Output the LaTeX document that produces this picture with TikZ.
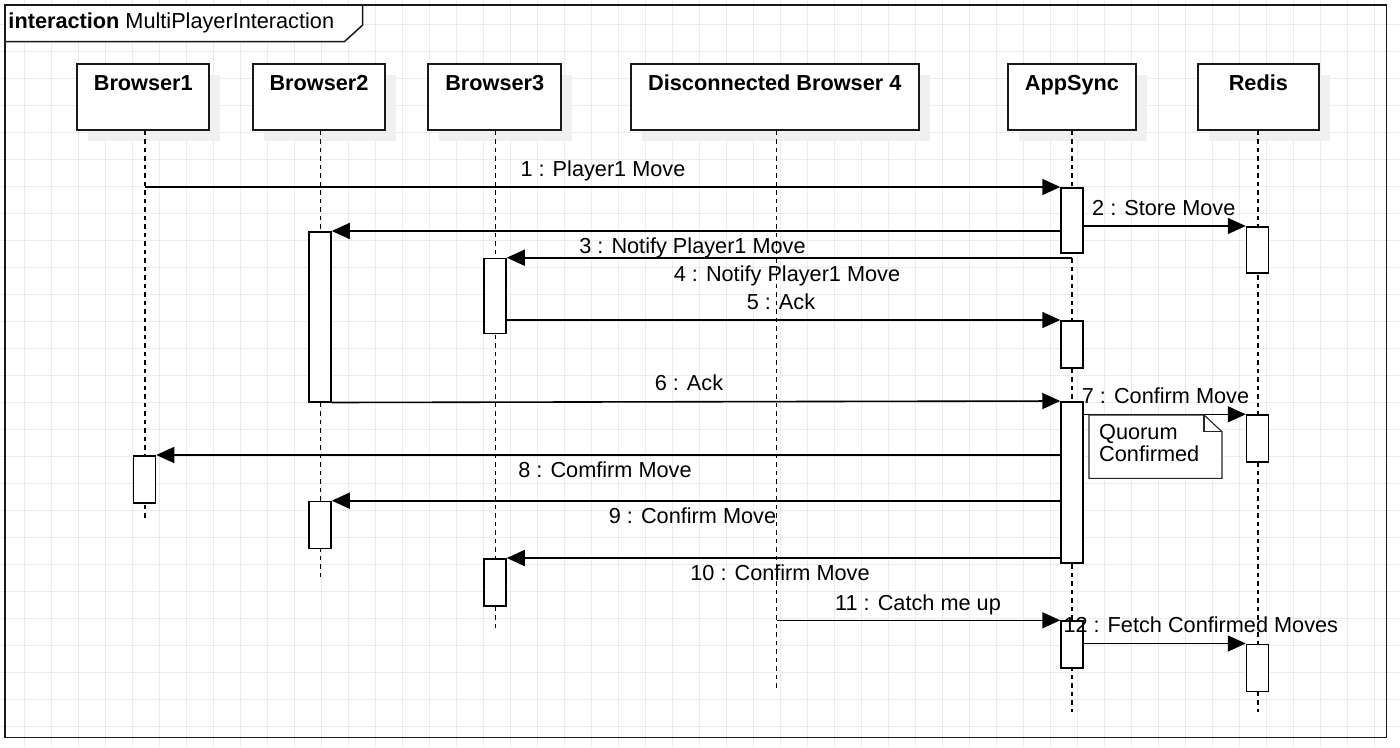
\documentclass[tikz,border=0pt]{standalone}
\usepackage{fontspec}
\setmainfont{Liberation Sans}
\usetikzlibrary{arrows.meta}
\begin{document}
\begin{tikzpicture}[x=1pt,y=-1pt,
  gridline/.style={draw=black!8, line width=1pt},
  framebox/.style={draw=black!90, line width=1.5pt},
  head/.style={draw=black!90, line width=1.8pt, fill=white, minimum height=66pt, inner sep=0pt},
  shadowbox/.style={fill=black!6, draw=none, minimum height=66pt, inner sep=0pt},
  htext/.style={anchor=base, inner sep=0pt, font=\fontsize{21.7}{25}\selectfont\bfseries},
  life/.style={draw=black, line width=1.9pt, dash pattern=on 4.5pt off 4pt},
  act/.style={draw=black, line width=1.5pt, fill=white, minimum width=22pt, inner sep=0pt, anchor=north},
  msg/.style={draw=black, line width=1.6pt, -{Triangle[length=18pt,width=16pt]}},
  lbl/.style={inner sep=0pt, anchor=base, font=\fontsize{21.7}{25}\selectfont},
  lblw/.style={inner sep=0pt, anchor=base west, font=\fontsize{21.7}{25}\selectfont},
  notebox/.style={draw=black!85, line width=1.1pt, fill=white},
]
% background and bounding box
\fill[white] (0,0) rectangle (1400,747);
\useasboundingbox (0,0) rectangle (1400,747);
% grid
\foreach \i in {0,...,51} \draw[gridline] ({24.3+27*\i},0) -- ++(0,747);
\foreach \i in {0,...,27} \draw[gridline] (0,{24.5+27*\i}) -- ++(1400,0);
% frame
\draw[framebox] (5,5) rectangle (1386.7,737.7);
\draw[framebox, fill=white] (5,5) -- (362.7,5) -- (362.7,25) -- (344.3,41.7) -- (5,41.7) -- cycle;
\node[anchor=base west, inner sep=0pt, font=\fontsize{21.7}{25}\selectfont] (title) at (8.3,28.3) {\textbf{interaction} MultiPlayerInteraction};

% header shadows
\node[shadowbox, minimum width=132pt] (s1) at (154.3,108) {};
\node[shadowbox, minimum width=132pt] (s2) at (330,108) {};
\node[shadowbox, minimum width=132.7pt] (s3) at (505.7,108) {};
\node[shadowbox, minimum width=288.3pt] (s4) at (785.8,108) {};
\node[shadowbox, minimum width=127.4pt] (s5) at (1083,108) {};
\node[shadowbox, minimum width=121.3pt] (s6) at (1269.3,108) {};

% header boxes
\node[head, minimum width=132pt] (h1) at (143.3,97) {};
\node[head, minimum width=132pt] (h2) at (319,97) {};
\node[head, minimum width=132.7pt] (h3) at (494.7,97) {};
\node[head, minimum width=288.3pt] (h4) at (774.8,97) {};
\node[head, minimum width=127.4pt] (h5) at (1072,97) {};
\node[head, minimum width=121.3pt] (h6) at (1258.3,97) {};
\node[htext] (t1) at ([yshift=-27.5pt]h1.north) {Browser1};
\node[htext] (t2) at ([yshift=-27.5pt]h2.north) {Browser2};
\node[htext] (t3) at ([yshift=-27.5pt]h3.north) {Browser3};
\node[htext] (t4) at ([yshift=-27.5pt]h4.north) {Disconnected Browser 4};
\node[htext] (t5) at ([yshift=-27.5pt]h5.north) {AppSync};
\node[htext] (t6) at ([yshift=-27.5pt]h6.north) {Redis};

% lifelines
\coordinate (e1) at (145,520);
\coordinate (e2) at (320.5,581);
\coordinate (e3) at (495.5,628.7);
\coordinate (e4) at (776.5,690.7);
\coordinate (e5) at (1072,712);
\coordinate (e6) at (1258,712);
\draw[life] (e1 |- h1.south) -- (e1);
\draw[life] (e2 |- h2.south) -- (e2);
\draw[life] (e3 |- h3.south) -- (e3);
\draw[life] (e4 |- h4.south) -- (e4);
\draw[life] (e5 |- h5.south) -- (e5);
\draw[life] (e6 |- h6.south) -- (e6);

% activations
\node[act, minimum height=65pt] (as1) at (1072,187) {};
\node[act, minimum height=47pt] (as2) at (1072,320) {};
\node[act, minimum height=161pt] (as3) at (1072,401) {};
\node[act, minimum height=47pt] (as4) at (1072,620.3) {};
\node[act, minimum height=46pt] (r1) at (1257.5,226) {};
\node[act, minimum height=47pt] (r2) at (1257.5,414.3) {};
\node[act, minimum height=47pt] (r3) at (1257.5,643.5) {};
\node[act, minimum height=170pt] (b2a1) at (320,231) {};
\node[act, minimum height=47pt] (b2a2) at (320,500.7) {};
\node[act, minimum height=75pt] (b3a1) at (495,257.7) {};
\node[act, minimum height=47pt] (b3a2) at (495,558) {};
\node[act, minimum height=47pt] (b1a) at (144.5,455) {};

% message start points
\coordinate (m1s) at (145,187);
\coordinate (m4s) at (1072,257.7);
\coordinate (m11s) at (776.5,620.3);

% messages
\draw[msg] (m1s) -- (as1.north west);
\draw[msg] (as1.east |- r1.north) -- (r1.north west);
\draw[msg] (as1.west |- b2a1.north) -- (b2a1.north east);
\draw[msg] (m4s) -- (b3a1.north east);
\draw[msg] (b3a1.east |- as2.north) -- (as2.north west);
\draw[msg] (b2a1.south east) -- (as3.north west);
\draw[msg] (as3.east |- r2.north) -- (r2.north west);
\draw[msg] (as3.west |- b1a.north) -- (b1a.north east);
\draw[msg] (as3.west |- b2a2.north) -- (b2a2.north east);
\draw[msg] (as3.west |- b3a2.north) -- (b3a2.north east);
\draw[msg] (m11s) -- (as4.north west);
\draw[msg] (as4.east |- r3.north) -- (r3.north west);

% labels
\node[lbl] (l1) at (603,176.5) {1 : Player1 Move};
\node[lblw] (l2) at (1092,215) {2 : Store Move};
\node[lbl] (l3) at (692.5,253.3) {3 : Notify Player1 Move};
\node[lbl] (l4) at (787,281) {4 : Notify Player1 Move};
\node[lbl] (l5) at (781,309.3) {5 : Ack};
\node[lbl] (l6) at (689,390.7) {6 : Ack};
\node[lblw] (l7) at (1081.7,403.3) {7 : Confirm Move};
\node[lbl] (l8) at (605,477.7) {8 : Comfirm Move};
\node[lbl] (l9) at (692.5,523.3) {9 : Confirm Move};
\node[lbl] (l10) at (780,580.7) {10 : Confirm Move};
\node[lblw] (l11) at (835,610) {11 : Catch me up};
\node[lblw] (l12) at (1063.3,632.3) {12 : Fetch Confirmed Moves};

% note
\draw[notebox] (1089,415) -- (1204,415) -- (1222,431.7) -- (1222,478.3) -- (1089,478.3) -- cycle;
\draw[draw=black!85, line width=1.1pt] (1204,415) -- (1204,431.7) -- (1222,431.7);
\node[lblw] (n1) at (1099,439.3) {Quorum};
\node[lblw] (n2) at (1099,461.7) {Confirmed};
\end{tikzpicture}
\end{document}
